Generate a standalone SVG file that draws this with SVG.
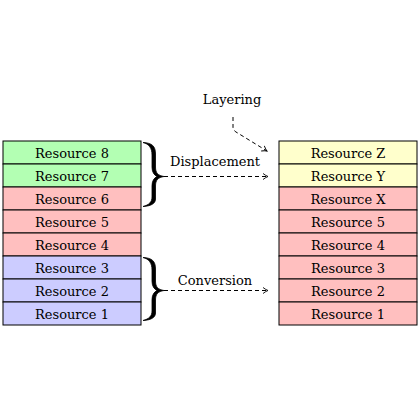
<svg xmlns="http://www.w3.org/2000/svg" width="420" height="420" viewBox="0 0 420 420">
<style>
.box{stroke:#000;stroke-width:1}
.g{fill:#b3ffb3}.r{fill:#ffbfbf}.b{fill:#ccccff}.y{fill:#ffffcc}
text{font-family:"DejaVu Serif","Liberation Serif",serif;font-size:13px;fill:#000;text-anchor:middle}
.dash{fill:none;stroke:#000;stroke-width:1;stroke-dasharray:4,3}
.brace{fill:#000;stroke:#000;stroke-width:0.8;stroke-linejoin:round}
</style>
<defs>
<marker id="ah" viewBox="0 0 8 8" refX="7" refY="4" markerWidth="8" markerHeight="8" markerUnits="userSpaceOnUse" orient="auto">
<path d="M2,1 Q5,3.3 7,4 Q5,4.7 2,7" fill="none" stroke="#000" stroke-width="0.9"/>
</marker>
</defs>
<rect width="420" height="420" fill="#fff"/>
<g id="left-stack">
<g id="r8"><rect class="box g" x="3" y="141" width="138" height="23"/><text x="72" y="157.5">Resource 8</text></g>
<g id="r7"><rect class="box g" x="3" y="164" width="138" height="23"/><text x="72" y="180.5">Resource 7</text></g>
<g id="r6"><rect class="box r" x="3" y="187" width="138" height="23"/><text x="72" y="203.5">Resource 6</text></g>
<g id="r5"><rect class="box r" x="3" y="210" width="138" height="23"/><text x="72" y="226.5">Resource 5</text></g>
<g id="r4"><rect class="box r" x="3" y="233" width="138" height="23"/><text x="72" y="249.5">Resource 4</text></g>
<g id="r3"><rect class="box b" x="3" y="256" width="138" height="23"/><text x="72" y="272.5">Resource 3</text></g>
<g id="r2"><rect class="box b" x="3" y="279" width="138" height="23"/><text x="72" y="295.5">Resource 2</text></g>
<g id="r1"><rect class="box b" x="3" y="302" width="138" height="23"/><text x="72" y="318.5">Resource 1</text></g>
</g>
<g id="right-stack">
<g id="rz"><rect class="box y" x="279" y="141" width="138" height="23"/><text x="348" y="157.5">Resource Z</text></g>
<g id="ry"><rect class="box y" x="279" y="164" width="138" height="23"/><text x="348" y="180.5">Resource Y</text></g>
<g id="rx"><rect class="box r" x="279" y="187" width="138" height="23"/><text x="348" y="203.5">Resource X</text></g>
<g id="rr5"><rect class="box r" x="279" y="210" width="138" height="23"/><text x="348" y="226.5">Resource 5</text></g>
<g id="rr4"><rect class="box r" x="279" y="233" width="138" height="23"/><text x="348" y="249.5">Resource 4</text></g>
<g id="rr3"><rect class="box r" x="279" y="256" width="138" height="23"/><text x="348" y="272.5">Resource 3</text></g>
<g id="rr2"><rect class="box r" x="279" y="279" width="138" height="23"/><text x="348" y="295.5">Resource 2</text></g>
<g id="rr1"><rect class="box r" x="279" y="302" width="138" height="23"/><text x="348" y="318.5">Resource 1</text></g>
</g>
<g id="braces">
<path class="brace" d="M143,142.5 C152,143 155.5,146 155.5,154 L155.5,167 C155.5,173 158,175.5 164,176.5 C158,177.5 155.5,180 155.5,186 L155.5,199 C155.5,203 152,206 143,206.5 C149,205 152,202 152,197 L152,186 C152,181 154,178 157,176.5 C154,175 152,172 152,167 L152,155 C152,148 149,144 143,142.5 Z"/>
<path class="brace" d="M143,257.5 C152,258 155.5,261 155.5,269 L155.5,281 C155.5,287 158,289.5 164,290.5 C158,291.5 155.5,294 155.5,300 L155.5,313 C155.5,317 152,320 143,320.5 C149,319 152,316 152,311 L152,300 C152,295 154,292 157,290.5 C154,289 152,286 152,281 L152,270 C152,263 149,259 143,257.5 Z"/>
</g>
<g id="labels">
<text x="215" y="166">Displacement</text>
<text x="215" y="285">Conversion</text>
<text x="232" y="104">Layering</text>
</g>
<g id="connectors">
<path class="dash" d="M164,176.5 L268,176.5" marker-end="url(#ah)"/>
<path class="dash" d="M164,290.5 L268,290.5" marker-end="url(#ah)"/>
<path class="dash" d="M233,117 L233,127 Q233,130 236,132 L267,151" marker-end="url(#ah)"/>
</g>
</svg>
